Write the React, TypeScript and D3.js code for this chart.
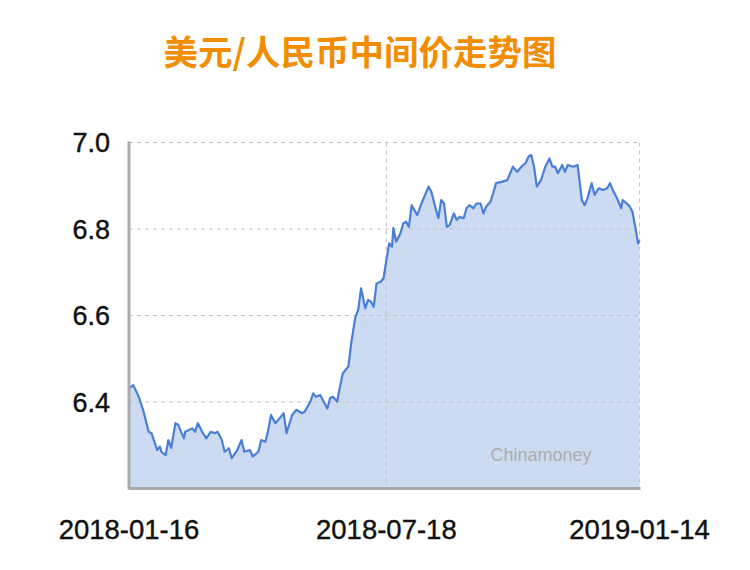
import React from 'react';
import * as d3 from 'd3';

const title = '美元/人民币中间价走势图';

const dates = [
  '2018-01-16', '2018-01-19', '2018-01-23', '2018-01-26', '2018-01-30', '2018-02-01', '2018-02-05', '2018-02-07', '2018-02-08', '2018-02-11',
  '2018-02-13', '2018-02-15', '2018-02-18', '2018-02-20', '2018-02-24', '2018-02-25', '2018-03-02', '2018-03-04', '2018-03-06', '2018-03-09',
  '2018-03-12', '2018-03-15', '2018-03-18', '2018-03-20', '2018-03-23', '2018-03-25', '2018-03-28', '2018-03-30', '2018-04-03', '2018-04-06',
  '2018-04-08', '2018-04-12', '2018-04-14', '2018-04-18', '2018-04-20', '2018-04-23', '2018-04-25', '2018-04-27', '2018-04-30', '2018-05-02',
  '2018-05-06', '2018-05-08', '2018-05-12', '2018-05-15', '2018-05-19', '2018-05-21', '2018-05-25', '2018-05-27', '2018-05-29', '2018-06-01',
  '2018-06-06', '2018-06-08', '2018-06-10', '2018-06-13', '2018-06-15', '2018-06-17', '2018-06-21', '2018-06-23', '2018-06-26', '2018-06-28',
  '2018-06-30', '2018-07-03', '2018-07-05', '2018-07-07', '2018-07-09', '2018-07-11', '2018-07-14', '2018-07-16', '2018-07-18', '2018-07-20',
  '2018-07-22', '2018-07-23', '2018-07-25', '2018-07-28', '2018-07-30', '2018-08-01', '2018-08-03', '2018-08-05', '2018-08-09', '2018-08-12',
  '2018-08-14', '2018-08-17', '2018-08-19', '2018-08-22', '2018-08-24', '2018-08-26', '2018-08-28', '2018-08-30', '2018-09-01', '2018-09-04',
  '2018-09-06', '2018-09-08', '2018-09-11', '2018-09-13', '2018-09-15', '2018-09-18', '2018-09-20', '2018-09-23', '2018-09-25', '2018-09-27',
  '2018-09-30', '2018-10-02', '2018-10-04', '2018-10-08', '2018-10-12', '2018-10-14', '2018-10-16', '2018-10-19', '2018-10-22', '2018-10-25',
  '2018-10-27', '2018-10-29', '2018-10-31', '2018-11-02', '2018-11-05', '2018-11-08', '2018-11-11', '2018-11-13', '2018-11-15', '2018-11-17',
  '2018-11-20', '2018-11-22', '2018-11-24', '2018-11-28', '2018-12-01', '2018-12-04', '2018-12-06', '2018-12-08', '2018-12-11', '2018-12-13',
  '2018-12-16', '2018-12-19', '2018-12-22', '2018-12-24', '2018-12-26', '2018-12-29', '2019-01-01', '2019-01-02', '2019-01-05', '2019-01-07',
  '2019-01-09', '2019-01-11', '2019-01-13', '2019-01-14',
];

const rates = [
  6.432, 6.439, 6.412, 6.382, 6.331, 6.328, 6.289, 6.297, 6.285, 6.277,
  6.312, 6.294, 6.351, 6.347, 6.316, 6.331, 6.339, 6.331, 6.351, 6.331,
  6.316, 6.331, 6.328, 6.331, 6.312, 6.285, 6.293, 6.270, 6.289, 6.312,
  6.285, 6.289, 6.274, 6.285, 6.312, 6.308, 6.335, 6.370, 6.351, 6.358,
  6.374, 6.328, 6.370, 6.382, 6.374, 6.378, 6.401, 6.420, 6.412, 6.416,
  6.385, 6.409, 6.412, 6.401, 6.435, 6.466, 6.482, 6.536, 6.597, 6.613,
  6.663, 6.617, 6.636, 6.632, 6.620, 6.674, 6.678, 6.686, 6.728, 6.767,
  6.759, 6.802, 6.771, 6.790, 6.813, 6.817, 6.805, 6.855, 6.832, 6.859,
  6.875, 6.898, 6.886, 6.848, 6.825, 6.867, 6.859, 6.805, 6.809, 6.836,
  6.821, 6.828, 6.825, 6.848, 6.855, 6.848, 6.859, 6.859, 6.836, 6.852,
  6.863, 6.883, 6.906, 6.909, 6.913, 6.929, 6.944, 6.932, 6.944, 6.952,
  6.967, 6.971, 6.944, 6.898, 6.913, 6.944, 6.963, 6.944, 6.944, 6.929,
  6.948, 6.932, 6.948, 6.944, 6.948, 6.867, 6.855, 6.871, 6.906, 6.879,
  6.894, 6.890, 6.894, 6.906, 6.890, 6.871, 6.848, 6.867, 6.859, 6.852,
  6.840, 6.805, 6.767, 6.774,
];

const yTicks = [6.4, 6.6, 6.8, 7.0];
const xTickLabels = ['2018-01-16', '2018-07-18', '2019-01-14'];
const yDomain = [6.2, 7.0];

const width = 750;
const height = 570;
const margin = { top: 142.5, right: 110.5, bottom: 81.5, left: 129 };

const parse = d3.timeParse('%Y-%m-%d');

export default function App() {
  const data = dates.map((d, i) => ({ date: parse(d) as Date, value: rates[i] }));

  // Scales
  const x = d3.scaleTime()
    .domain([parse(xTickLabels[0]) as Date, parse(xTickLabels[2]) as Date])
    .range([margin.left, width - margin.right]);

  const y = d3.scaleLinear()
    .domain(yDomain)
    .range([height - margin.bottom, margin.top]);

  const area = d3.area<{ date: Date; value: number }>()
    .x(d => x(d.date))
    .y0(y(yDomain[0]))
    .y1(d => y(d.value));

  const line = d3.line<{ date: Date; value: number }>()
    .x(d => x(d.date))
    .y(d => y(d.value));

  const x0 = margin.left;
  const x1 = width - margin.right;
  const y0 = y(yDomain[0]);
  const y1 = y(yDomain[1]);
  const font = '"Liberation Sans", Arial, sans-serif';

  return (
    <svg
      width={width}
      height={height}
      style={{ position: 'absolute', left: 0, top: 0, background: '#fff' }}
    >
      <text
        x={360}
        y={65}
        textAnchor="middle"
        fontFamily='"Noto Sans CJK SC", sans-serif'
        fontWeight="bold"
        fontSize={34.5}
        fill="#f28c00"
      >
        {title}
      </text>

      <path d={area(data) ?? ''} fill="#cddbf2" />

      {/* Grid */}
      {yTicks.map(t => (
        <line key={t} x1={x0} x2={x1} y1={y(t)} y2={y(t)} stroke="#c4c4c4" strokeWidth={1.2} strokeDasharray="4,4" />
      ))}
      {xTickLabels.slice(1).map(t => (
        <line key={t} x1={x(parse(t) as Date)} x2={x(parse(t) as Date)} y1={y1} y2={y0} stroke="#c4c4c4" strokeWidth={1.2} strokeDasharray="4,4" />
      ))}

      <path d={line(data) ?? ''} fill="none" stroke="#4a7fd6" strokeWidth={2.2} strokeLinejoin="round" />

      <text x={541} y={461} textAnchor="middle" fontFamily={font} fontSize={18} fill="#adadad">
        Chinamoney
      </text>

      {/* Axes */}
      <line x1={x0} x2={x0} y1={y1 - 1} y2={y0 + 1} stroke="#aaaaaa" strokeWidth={3} />
      <line x1={x0} x2={x1 + 1} y1={y0} y2={y0} stroke="#aaaaaa" strokeWidth={3} />

      {yTicks.map(t => (
        <text key={t} x={110} y={y(t)} dy="0.36em" textAnchor="end" fontFamily={font} fontSize={27} fill="#111" stroke="#111" strokeWidth={0.4}>
          {d3.format('.1f')(t)}
        </text>
      ))}
      {xTickLabels.map(t => (
        <text key={t} x={x(parse(t) as Date)} y={539} textAnchor="middle" fontFamily={font} fontSize={27.5} fill="#111" stroke="#111" strokeWidth={0.4}>
          {t}
        </text>
      ))}
    </svg>
  );
}
